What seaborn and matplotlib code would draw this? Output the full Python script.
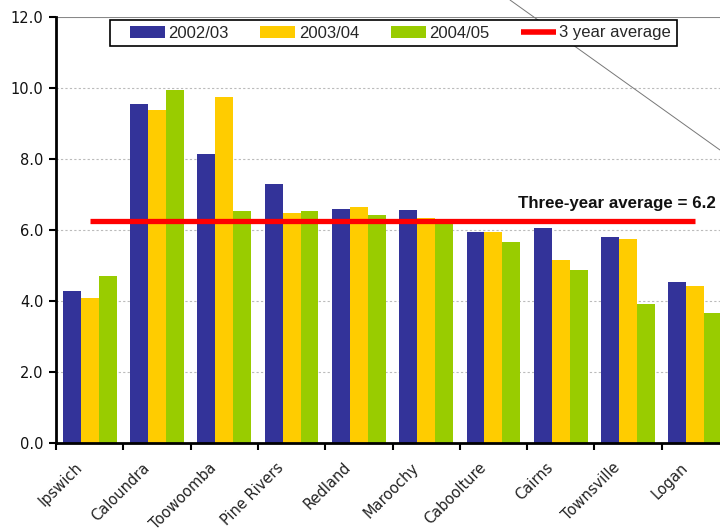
import numpy as np
import pandas as pd
import matplotlib
matplotlib.use("Agg")
import matplotlib.pyplot as plt
import seaborn as sns
from matplotlib.patches import Patch, Rectangle
from matplotlib.lines import Line2D

councils = ["Ipswich", "Caloundra", "Toowoomba", "Pine Rivers", "Redland",
            "Maroochy", "Caboolture", "Cairns", "Townsville", "Logan"]
years = ["2002/03", "2003/04", "2004/05"]
v_2002 = [4.28, 9.55, 8.14, 7.30, 6.59, 6.56, 5.94, 6.06, 5.80, 4.54]
v_2003 = [4.08, 9.38, 9.75, 6.48, 6.65, 6.34, 5.94, 5.15, 5.75, 4.42]
v_2004 = [4.70, 9.94, 6.54, 6.54, 6.42, 6.20, 5.66, 4.87, 3.92, 3.66]
avg_value = 6.24
avg_label = "Three-year average = 6.2"
avg_legend = "3 year average"
yticks = [0, 2, 4, 6, 8, 10, 12]

colors = ["#333399", "#FFCC00", "#99CC00"]
red = "#FF0000"

df = pd.DataFrame({
    "council": councils * 3,
    "year": [years[0]] * 10 + [years[1]] * 10 + [years[2]] * 10,
    "value": v_2002 + v_2003 + v_2004,
})

sns.set_theme(style="white")
plt.rcParams["font.family"] = ["DejaVu Sans"]

W, H = 720, 531
fig = plt.figure(figsize=(7.2, 5.31), dpi=100)
ax = fig.add_axes([56 / W, 1 - 443 / H, 673 / W, 426 / H])

sns.barplot(data=df, x="council", y="value", hue="year", order=councils,
            hue_order=years, palette=colors, saturation=1, width=0.8,
            linewidth=0, ax=ax, legend=False)

ax.plot([0, 9], [avg_value, avg_value], color=red, lw=3.8,
        solid_capstyle="butt", zorder=5)
ax.text(9.31, avg_value + 0.3, avg_label, ha="right", va="bottom",
        fontsize=12.2, fontweight="bold", family="Liberation Sans", color="#111111")

ax.set_xlim(-0.5, 9.5)
ax.set_ylim(0, 12)
ax.set_yticks(yticks)
ax.set_yticklabels([f"{t:.1f}" for t in yticks], fontsize=10.5, color="#111111")
# label anchors sit a little left of each group centre (major ticks are invisible)
ax.set_xticks(np.arange(len(councils)) - 0.15)
ax.set_xticklabels(councils, rotation=45, ha="right", va="center",
                   rotation_mode="anchor", fontsize=10.5, color="#222222")
ax.set_xticks(np.arange(-0.5, 10, 1), minor=True)
ax.tick_params(axis="x", which="major", length=0, pad=16)
ax.tick_params(axis="x", which="minor", length=5, width=1.5, color="black", bottom=True)
ax.tick_params(axis="y", length=5, width=1.5, color="black", left=True, pad=4)
ax.set_xlabel("")
ax.set_ylabel("")

for y in yticks[1:-1]:
    ax.axhline(y, color="#bbbbbb", lw=0.8, ls=(0, (2, 2)), zorder=0)
ax.axhline(12, color="#888888", lw=1.5, zorder=0)

for s in ["left", "bottom"]:
    ax.spines[s].set_color("black")
    ax.spines[s].set_linewidth(2)
ax.spines["top"].set_visible(False)
ax.spines["right"].set_visible(False)

# diagonal stray line (behind legend, over plot)
ax.add_line(Line2D([510 / W, 1.0], [1.0, 1 - 150 / H], transform=fig.transFigure,
                   color="#777777", lw=0.7, zorder=4, clip_on=False))

# legend box
ax.add_patch(Rectangle((110 / W, 1 - 46 / H), 567 / W, 26 / H, transform=fig.transFigure,
                       facecolor="white", edgecolor="black", lw=1.2, zorder=6,
                       clip_on=False))

handles = [Patch(facecolor=c, edgecolor="none") for c in colors]
handles.append(Line2D([0], [0], color=red, lw=4, solid_capstyle="butt"))
labels = years + [avg_legend]
leg = ax.legend(handles, labels, ncol=4, loc="center left",
                bbox_to_anchor=(130 / W, 1 - 33 / H), bbox_transform=fig.transFigure,
                frameon=False, prop={"family": "Liberation Sans", "size": 12},
                handlelength=2.1, handleheight=0.7, handletextpad=0.2,
                columnspacing=1.9, borderpad=0, borderaxespad=0)
leg.set_zorder(7)

fig.savefig("out.png", dpi=100)
